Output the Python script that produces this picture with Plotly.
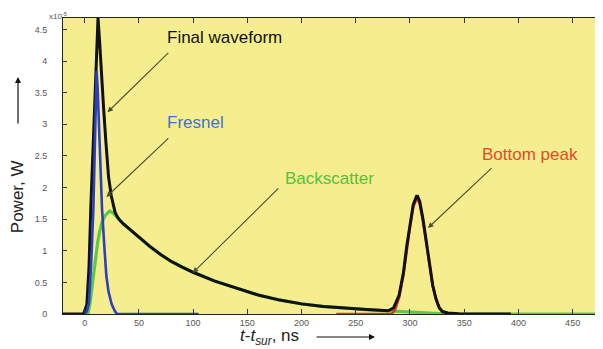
import plotly.graph_objects as go

# ---- data (units of 1e-5 W vs ns) ----
final_t = [-20, -1, 2, 4, 5.6, 7.5, 9.3, 11, 12.3, 13.8, 15.3, 17.5, 19.6, 22, 24.5, 26.5, 28, 30, 32, 36, 40, 45, 50,
           60, 70, 80, 90, 100, 120, 140, 150, 160, 180, 200, 220, 240, 260, 280, 285, 290, 294, 297, 300, 303,
           306, 307, 309, 312, 315, 318, 321, 324, 327, 330, 335, 345, 360, 393]
final_p = [0, 0, 0.15, 0.75, 1.66, 2.5, 3.24, 4.28, 4.68, 4.3, 3.77, 3.24, 2.71, 2.17, 1.87, 1.7, 1.61, 1.54, 1.49, 1.42,
           1.36, 1.29, 1.21, 1.07, 0.94, 0.83, 0.74, 0.66, 0.52, 0.41, 0.35, 0.3, 0.22, 0.16, 0.12, 0.09, 0.07, 0.05,
           0.1, 0.3, 0.66, 1.07, 1.42, 1.73, 1.86, 1.86, 1.78, 1.5, 1.15, 0.78, 0.45, 0.24, 0.1, 0.04, 0.015, 0.005,
           0.002, 0]

fresnel_t = [0, 2, 4, 6, 8, 9.5, 10.3, 11, 12, 13, 14, 16, 18, 20, 22, 25, 28, 30, 105]
fresnel_p = [0, 0.04, 0.18, 0.8, 1.66, 2.6, 3.4, 3.84, 3.55, 3.0, 2.5, 1.66, 1.1, 0.6, 0.35, 0.15, 0.04, 0, 0]

back_t = [0, 3, 5, 8, 10, 12, 14, 16, 19, 23, 26, 29, 32, 36, 40, 45, 50, 60, 70, 80, 90, 100, 120, 140, 150, 160,
          180, 200, 220, 240, 260, 280, 285, 290, 300, 310, 320, 330, 336, 478]
back_p = [0, 0, 0.18, 0.59, 0.9, 1.14, 1.32, 1.45, 1.56, 1.63, 1.6, 1.54, 1.49, 1.42, 1.36, 1.29, 1.21, 1.07, 0.94,
          0.83, 0.74, 0.66, 0.52, 0.41, 0.35, 0.3, 0.22, 0.16, 0.12, 0.09, 0.07, 0.05, 0.045, 0.04, 0.035, 0.025,
          0.015, 0.008, 0, 0]

bottom_t = [232, 283, 286, 290, 294, 297, 300, 303, 306, 307, 309, 312, 315, 318, 321, 324, 327, 330, 335, 340]
bottom_p = [0, 0, 0.06, 0.26, 0.62, 1.03, 1.38, 1.69, 1.82, 1.82, 1.74, 1.47, 1.13, 0.76, 0.44, 0.23, 0.09, 0.03, 0, 0]

x_ticks = [0, 50, 100, 150, 200, 250, 300, 350, 400, 450]
y_ticks = [0, 0.5, 1, 1.5, 2, 2.5, 3, 3.5, 4, 4.5]

fig = go.Figure()
fig.add_trace(go.Scatter(x=back_t, y=back_p, mode="lines", line=dict(color="#5cc84a", width=3.2)))
fig.add_trace(go.Scatter(x=bottom_t, y=bottom_p, mode="lines", line=dict(color="#e0302a", width=2.6)))
fig.add_trace(go.Scatter(x=final_t, y=final_p, mode="lines", line=dict(color="#111111", width=3)))
fig.add_trace(go.Scatter(x=fresnel_t, y=fresnel_p, mode="lines", line=dict(color="#2b40c0", width=2.6)))

tickfont = dict(family="Liberation Sans, Arial", size=9, color="#555555")
fig.update_xaxes(range=[-20, 478], tickmode="array", tickvals=x_ticks, ticks="inside", ticklen=5,
                 tickcolor="#333", showline=True, linecolor="#222", linewidth=1, mirror="allticks",
                 showgrid=False, zeroline=False, tickfont=tickfont)
fig.update_yaxes(range=[0, 4.68], tickmode="array", tickvals=y_ticks, ticks="inside", ticklen=4,
                 tickcolor="#333", showline=True, linecolor="#222", linewidth=1, mirror="allticks",
                 showgrid=False, zeroline=False, tickfont=tickfont, ticklabelstandoff=13)

arrow_col = "#4d4d33"
labels = [
    ("Final waveform", "#111111", 73.8, 4.37, 21, 3.19, 78.5, 4.15),
    ("Fresnel", "#3a74d6", 73.8, 3.02, 20, 1.85, 78.5, 2.8),
    ("Backscatter", "#52c23c", 182.8, 2.15, 99.7, 0.65, 180, 2.01),
    ("Bottom peak", "#e8482a", 364.6, 2.52, 316.6, 1.36, 376.6, 2.33),
]
anns = []
for txt, col, tx, ty, hx, hy, sx, sy in labels:
    anns.append(dict(x=tx, y=ty, xref="x", yref="y", text=txt, showarrow=False, xanchor="left",
                     yanchor="middle", font=dict(family="Liberation Sans, Arial", size=17, color=col)))
    anns.append(dict(x=hx, y=hy, xref="x", yref="y", ax=sx, ay=sy, axref="x", ayref="y", text="",
                     showarrow=True, arrowhead=2, arrowsize=1, arrowwidth=1.1, arrowcolor=arrow_col))

# exponent label
anns.append(dict(x=-0.03, y=1.008, xref="paper", yref="paper", text="x10<sup>-5</sup>", showarrow=False,
                 xanchor="left", yanchor="middle", font=dict(family="Liberation Sans, Arial", size=8, color="#555")))
# y title
anns.append(dict(x=-0.085, y=0.395, xref="paper", yref="paper", text="Power, W", textangle=-90, showarrow=False,
                 xanchor="center", yanchor="middle", font=dict(family="Liberation Sans, Arial", size=17, color="#222")))
anns.append(dict(x=-0.0833, y=0.8007, xref="paper", yref="paper", text="", showarrow=True, ax=0, ay=48,
                 arrowhead=2, arrowsize=1, arrowwidth=1.2, arrowcolor="#111"))
# x title
anns.append(dict(x=0.324, y=-0.0777, xref="paper", yref="paper",
                 text="<i>t</i>-<i>t</i><sub><i>sur</i></sub>, ns", showarrow=False,
                 xanchor="left", yanchor="middle", font=dict(family="Liberation Sans, Arial", size=17, color="#222")))
anns.append(dict(x=0.5778, y=-0.0777, xref="paper", yref="paper", text="", showarrow=True, ax=-60, ay=0,
                 arrowhead=2, arrowsize=1, arrowwidth=1.2, arrowcolor="#111"))

# page body has an 8px margin: size the figure so the plot area lands where the reference has it
fig.update_layout(width=595, height=341, margin=dict(l=55, r=0, t=10, b=35),
                  paper_bgcolor="white", plot_bgcolor="#F6EE8E", showlegend=False, annotations=anns)
fig.write_html("out.html")
